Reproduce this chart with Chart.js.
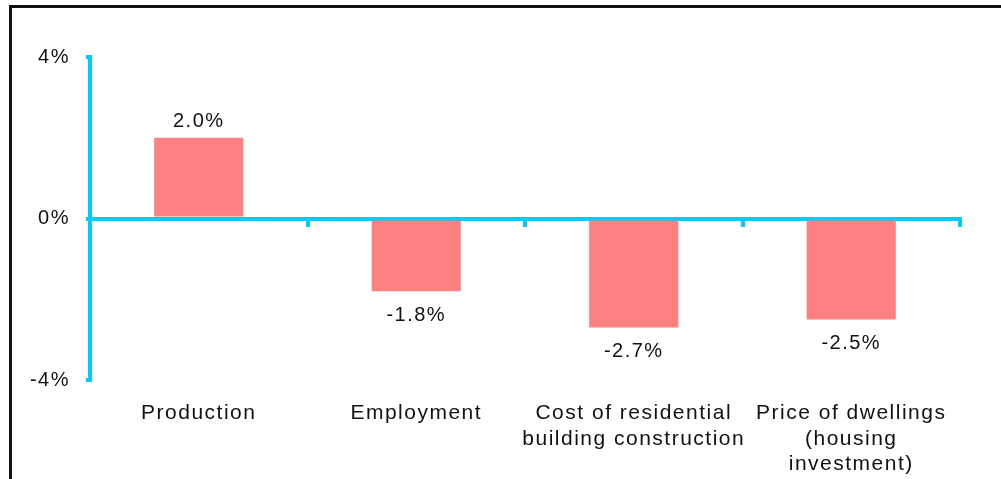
<!DOCTYPE html>
<html>
<head>
<meta charset="utf-8">
<script src="https://cdn.jsdelivr.net/npm/chart.js@4"></script>
<style>
  body { margin: 0; background: #fff; overflow: hidden; }
  #frame { position: absolute; left: 9px; top: 5px; width: 1100px; height: 600px;
           border-top: 3px solid #111; border-left: 3px solid #111; }
  #chart { position: absolute; left: 0; top: 0; }
</style>
</head>
<body>
<div id="frame"></div>
<canvas id="chart" width="1001" height="479"></canvas>
<script>
// data
const categories = [
    "Production",
    "Employment",
    ["Cost of residential", "building construction"],
    ["Price of dwellings", "(housing", "investment)"]
];
const changes = [2.0, -1.8, -2.7, -2.5];
const yTicks = [-4, 0, 4];

const CYAN = "#00CCFF";
const BAR = "#FF8080";
const FONT = "'Liberation Sans', Arial, sans-serif";

// spacing of letters as in the picture (context gets reset on resize)
const spacing = {
    id: "spacing",
    beforeLayout(chart) { chart.ctx.letterSpacing = "1.5px"; },
    beforeDraw(chart) { chart.ctx.letterSpacing = "1.5px"; }
};

// value labels above / below each bar
const valueLabels = {
    id: "valueLabels",
    afterDatasetsDraw(chart) {
        const ctx = chart.ctx;
        const meta = chart.getDatasetMeta(0);
        ctx.save();
        ctx.letterSpacing = "1.5px";
        ctx.font = "20px " + FONT;
        ctx.fillStyle = "#111";
        ctx.textAlign = "center";
        ctx.textBaseline = "middle";
        meta.data.forEach(function (bar, i) {
            const v = changes[i];
            const y = v >= 0 ? bar.y - 16 : bar.y + 24;
            ctx.fillText(v.toFixed(1) + "%", bar.x, y);
        });
        ctx.restore();
    }
};

new Chart(document.getElementById("chart"), {
    type: "bar",
    data: {
        labels: categories,
        datasets: [{
            data: changes,
            backgroundColor: BAR,
            borderWidth: 0,
            barPercentage: 0.41,
            categoryPercentage: 1.0,
            xAxisID: "x",
            yAxisID: "y"
        }]
    },
    options: {
        responsive: false,
        animation: false,
        layout: { padding: { top: 57, right: 41, bottom: 0, left: 0 } },
        plugins: { legend: { display: false }, tooltip: { enabled: false } },
        scales: {
            // zero line with small tick marks between categories
            x: {
                type: "category",
                position: { y: 0 },
                offset: true,
                grid: {
                    display: true,
                    drawOnChartArea: false,
                    offset: true,
                    color: CYAN,
                    lineWidth: 4,
                    tickLength: 6
                },
                border: { display: true, color: CYAN, width: 4 },
                ticks: { display: false }
            },
            // category labels at the bottom
            x2: {
                type: "category",
                position: "bottom",
                labels: categories,
                offset: true,
                grid: { display: false },
                border: { display: false },
                ticks: {
                    color: "#111",
                    font: { family: FONT, size: 21, lineHeight: 1.2 },
                    padding: 13,
                    maxRotation: 0,
                    autoSkip: false
                },
                afterFit(scale) { scale.height = 99; }
            },
            y: {
                min: -4,
                max: 4,
                afterBuildTicks(scale) {
                    scale.ticks = yTicks.map(v => ({ value: v }));
                },
                grid: {
                    drawOnChartArea: false,
                    color: CYAN,
                    lineWidth: 4,
                    tickLength: 4
                },
                border: { display: true, color: CYAN, width: 4 },
                ticks: {
                    color: "#111",
                    font: { family: FONT, size: 20 },
                    padding: 16,
                    callback: v => v + "%"
                },
                afterFit(scale) { scale.width = 90; }
            }
        }
    },
    plugins: [spacing, valueLabels]
});
</script>
</body>
</html>
